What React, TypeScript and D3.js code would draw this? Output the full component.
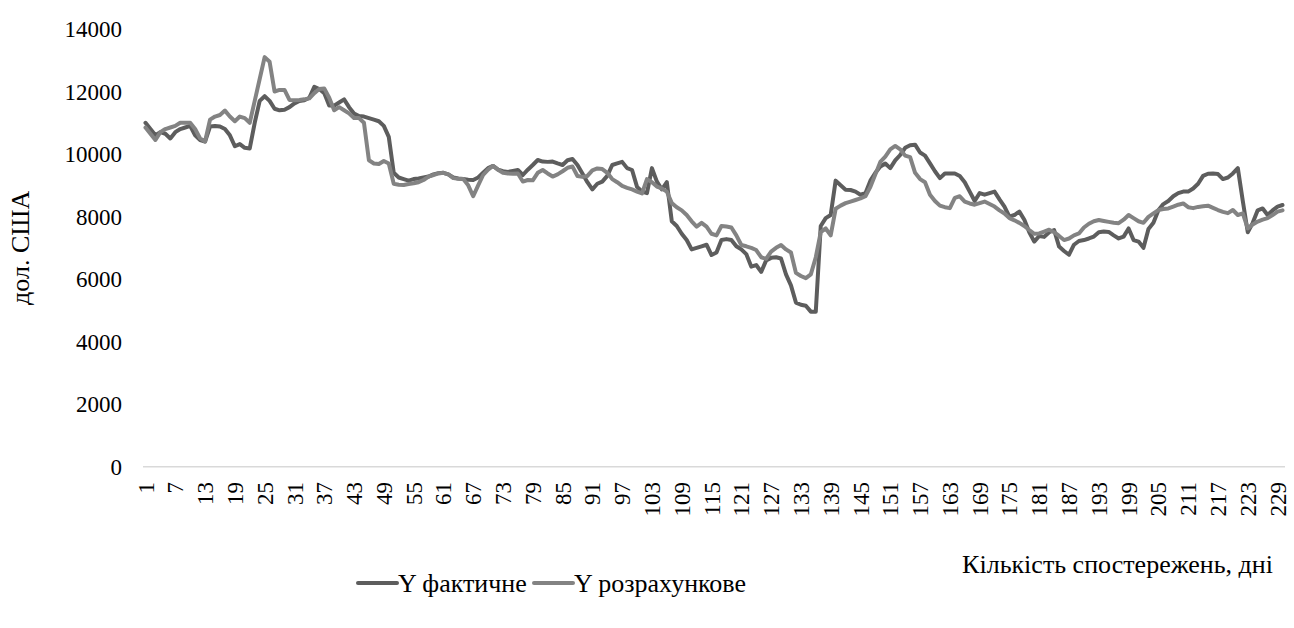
import * as d3 from 'd3';

const days: number[] = Array.from({ length: 230 }, (_, i) => i + 1);

const actual: number[] = [
  11000, 10800, 10600, 10700, 10650, 10500, 10700, 10800, 10850, 10900,
  10600, 10450, 10400, 10880, 10900, 10880, 10800, 10600, 10250, 10320,
  10200, 10180, 11000, 11700, 11850, 11700, 11450, 11400, 11420, 11500,
  11620, 11700, 11720, 11800, 12150, 12080, 11950, 11550, 11550, 11650,
  11750, 11500, 11300, 11220, 11200, 11150, 11100, 11050, 10900, 10550,
  9400, 9250, 9200, 9150, 9200, 9220, 9250, 9280, 9350, 9390,
  9400, 9350, 9250, 9220, 9200, 9180, 9170, 9250, 9400, 9550,
  9620, 9500, 9450, 9430, 9460, 9490, 9330, 9500, 9650, 9810,
  9760, 9750, 9760, 9700, 9650, 9800, 9840, 9650, 9380, 9100,
  8870, 9050, 9120, 9300, 9650, 9700, 9750, 9550, 9490, 8950,
  8800, 8750, 9550, 9120, 8870, 9100, 7850, 7700, 7450, 7250,
  6950, 7000, 7050, 7100, 6770, 6850, 7250, 7280, 7250, 7050,
  6950, 6800, 6400, 6450, 6230, 6600, 6680, 6700, 6660, 6150,
  5800, 5250, 5180, 5150, 4960, 4960, 7700, 7950, 8050, 9150,
  9000, 8860, 8850, 8800, 8700, 8750, 9150, 9400, 9600, 9700,
  9550, 9800, 9970, 10200, 10280, 10300, 10050, 9950, 9700, 9450,
  9230, 9380, 9380, 9380, 9300, 9100, 8800, 8500, 8750, 8700,
  8750, 8800, 8550, 8320, 8000, 8050, 8160, 7900, 7500, 7200,
  7380, 7350, 7500, 7570, 7040, 6900, 6780, 7100, 7220, 7250,
  7300, 7360, 7500, 7520, 7510, 7400, 7300, 7360, 7620, 7250,
  7200, 7000, 7600, 7800, 8200, 8400, 8500, 8650, 8750, 8800,
  8800, 8900, 9050, 9300, 9370, 9380, 9360, 9200, 9250, 9380,
  9550, 8500, 7500, 7800, 8200, 8260, 8050, 8200, 8320, 8370,
];

const predicted: number[] = [
  10850, 10650, 10450, 10700, 10800, 10850, 10900, 11000, 11000, 11000,
  10800, 10500, 10400, 11100, 11200, 11250, 11390, 11200, 11050, 11200,
  11150, 11000, 11700, 12400, 13100, 12950, 12000, 12050, 12050, 11730,
  11720, 11730, 11750, 11780, 11950, 12080, 12100, 11800, 11400, 11500,
  11400, 11300, 11150, 11150, 11000, 9800, 9700, 9680, 9780, 9700,
  9050, 9020, 9010, 9040, 9065, 9100, 9170, 9280, 9330, 9380,
  9400, 9350, 9230, 9210, 9200, 9000, 8650, 9000, 9330, 9500,
  9620, 9500, 9400, 9380, 9370, 9380, 9120, 9170, 9160, 9400,
  9490, 9380, 9280, 9350, 9450, 9560, 9600, 9300, 9270, 9300,
  9480, 9540, 9520, 9400, 9200, 9100, 8980, 8920, 8870, 8800,
  8740, 9200, 9100, 8960, 8900, 8800, 8430, 8300, 8200, 8050,
  7850, 7680, 7800, 7680, 7450, 7400, 7700, 7680, 7650, 7400,
  7090, 7050, 7000, 6930, 6700, 6650, 6880, 7000, 7090, 6950,
  6850, 6200, 6100, 6030, 6150, 6700, 7500, 7620, 7400, 8250,
  8350, 8430, 8480, 8530, 8580, 8650, 8950, 9350, 9750, 9920,
  10150, 10260, 10150, 9950, 9900, 9400, 9200, 9100, 8700, 8500,
  8350, 8300, 8270, 8600, 8650, 8480, 8420, 8380, 8430, 8480,
  8400, 8320, 8200, 8100, 7950, 7880, 7800, 7700, 7570, 7450,
  7460, 7520, 7580, 7500, 7380, 7250, 7300, 7400, 7460, 7650,
  7770, 7850, 7890, 7860, 7830, 7800, 7790, 7900, 8050, 7950,
  7850, 7800, 7990, 8100, 8210, 8240, 8260, 8320, 8380, 8420,
  8300, 8270, 8310, 8330, 8350, 8280, 8210, 8150, 8110, 8210,
  8050, 8100, 7620, 7750, 7840, 7900, 7950, 8050, 8160, 8200,
];

const yTicks: number[] = [0, 2000, 4000, 6000, 8000, 10000, 12000, 14000];
const xTickDays: number[] = days.filter((d) => (d - 1) % 6 === 0);

const seriesNames = ['Y фактичне', 'Y розрахункове'];
const seriesColors = ['#5d5d5d', '#838383'];

const W = 1294;
const H = 628;
const FONT = "'Liberation Serif', 'DejaVu Serif', serif";
const TICK_FS = 23;
const TITLE_FS = 26;
const LEGEND_FS = 26;

export default function App() {
  const x = d3.scaleBand<number>().domain(days).range([143, 1285]);
  const y = d3.scaleLinear().domain([0, 14000]).range([466.7, 29]);
  const cx = (d: number) => (x(d) ?? 0) + x.bandwidth() / 2;

  const line = d3
    .line<number>()
    .x((_, i) => cx(days[i]))
    .y((v) => y(v));

  const series = [actual, predicted];

  return (
    <svg
      width={W}
      height={H}
      style={{ position: 'absolute', left: 0, top: 0, background: '#fff', fontFamily: FONT }}
    >
      {/* y axis labels */}
      {yTicks.map((t) => (
        <text key={t} x={122} y={y(t)} dy="0.35em" textAnchor="end" fontSize={TICK_FS}>
          {t}
        </text>
      ))}
      <text
        transform={`translate(20,${y(7000)}) rotate(-90)`}
        textAnchor="middle"
        fontSize={TITLE_FS}
        dy="0.35em"
      >
        дол. США
      </text>

      {/* x axis */}
      <line x1={143} x2={1285} y1={y(0)} y2={y(0)} stroke="#d9d9d9" strokeWidth={1.5} />
      {xTickDays.map((d) => (
        <text
          key={d}
          transform={`translate(${cx(d)},${482}) rotate(-90)`}
          textAnchor="end"
          dy="0.35em"
          fontSize={TICK_FS}
        >
          {d}
        </text>
      ))}
      <text x={1273} y={573} textAnchor="end" fontSize={TITLE_FS}>
        Кількість спостережень, дні
      </text>

      {/* lines */}
      {series.map((s, k) => (
        <path
          key={k}
          d={line(s) ?? ''}
          fill="none"
          stroke={seriesColors[k]}
          strokeWidth={4}
          strokeLinejoin="round"
          strokeLinecap="round"
        />
      ))}

      {/* legend */}
      {seriesNames.map((name, k) => {
        const lx = k === 0 ? 358 : 534;
        return (
          <g key={name}>
            <line x1={lx} x2={lx + 39} y1={583} y2={583} stroke={seriesColors[k]} strokeWidth={4} strokeLinecap="round" />
            <text x={lx + 40} y={583} dy="0.35em" fontSize={LEGEND_FS}>
              {name}
            </text>
          </g>
        );
      })}
    </svg>
  );
}
